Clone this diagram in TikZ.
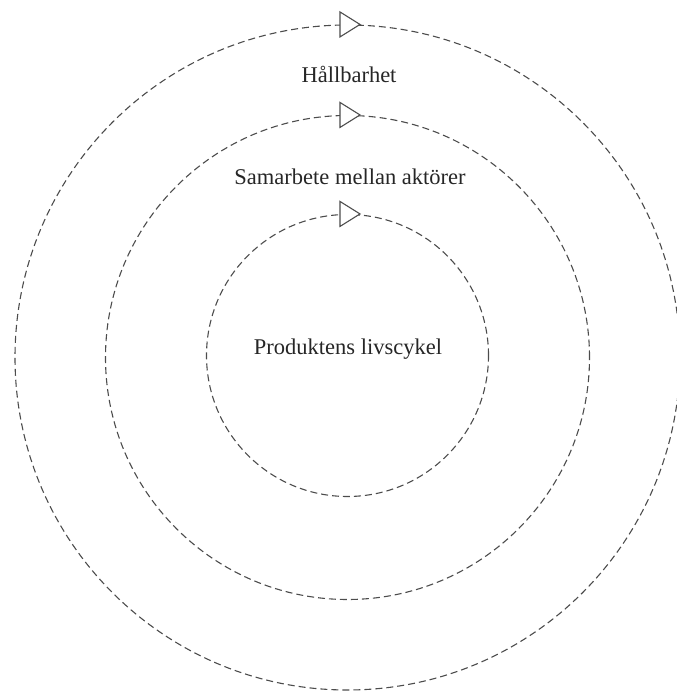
\documentclass[tikz,border=0pt]{standalone}
\usepackage{fontspec}
\setmainfont{Liberation Serif}
\begin{document}
\begin{tikzpicture}[x=1pt,y=1pt,
  ring/.style={draw=black!70, line width=1.1pt, dash pattern=on 7pt off 4pt, circle, inner sep=0pt, minimum size=#1},
  tri/.style={draw=black!70, line width=1.1pt, fill=white, line join=miter},
  lbl/.style={font=\fontsize{22.5}{26}\selectfont, text=black!85, anchor=base, inner sep=0pt}]
\useasboundingbox (0,0) rectangle (676,692);
\coordinate (c) at (347.5,334.5);
\node[ring=665pt] (outer) at (c) {};
\node[ring=484pt] (middle) at (c) {};
\node[ring=282pt] (inner) at ([yshift=2pt]c) {};
\foreach \n in {outer,middle,inner}{
  \draw[tri] ([xshift=-7.5pt,yshift=12.5pt]\n.north) -- ([xshift=12.5pt]\n.north) -- ([xshift=-7.5pt,yshift=-12.5pt]\n.north) -- cycle;
}
\node[lbl] (t1) at (349,609) {Hållbarhet};
\node[lbl] (t2) at (350,507) {Samarbete mellan aktörer};
\node[lbl] (t3) at (348,337) {Produktens livscykel};
\end{tikzpicture}
\end{document}
